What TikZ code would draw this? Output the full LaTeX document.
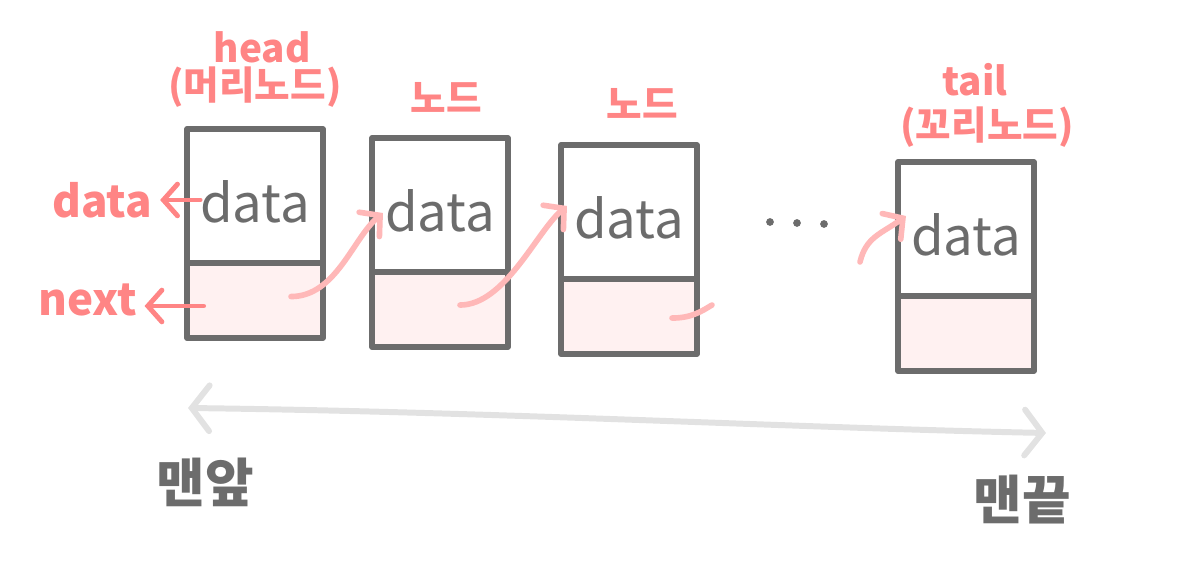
\documentclass[tikz,border=0pt]{standalone}
\usepackage{fontspec}
\usepackage{tikz}
\usetikzlibrary{positioning, arrows.meta}
\newfontfamily\krfont{Noto Sans CJK KR}
\definecolor{boxgray}{RGB}{108,108,108}
\definecolor{labelpink}{RGB}{255,133,133}
\definecolor{linkpink}{RGB}{255,184,184}
\definecolor{cellpink}{RGB}{255,241,241}
\definecolor{spangray}{RGB}{226,226,226}

\begin{document}
\begin{tikzpicture}[x=0.01cm, y=-0.01cm,
  datapart/.style={draw=boxgray, line width=1.6pt, line join=round, fill=white,
    minimum width=1.36cm, minimum height=1.34cm, outer sep=0pt, inner sep=0pt,
    text height=0.52cm, text depth=0pt,
    text=boxgray, font=\krfont\fontsize{15}{18}\selectfont},
  nextpart/.style={draw=boxgray, line width=1.6pt, line join=round, fill=cellpink,
    minimum width=1.36cm, minimum height=0.75cm, outer sep=0pt, inner sep=0pt},
  pinklabel/.style={text=labelpink, font=\krfont\bfseries\fontsize{11}{13}\selectfont, inner sep=1pt},
  endlabel/.style={text=boxgray, font=\krfont\bfseries\fontsize{15}{18}\selectfont, inner sep=1pt},
  link/.style={draw=linkpink, line width=1.6pt, line cap=round,
    -{Straight Barb[length=4pt, width=9pt, line cap=round]}},
  pointer/.style={draw=labelpink, line width=1.4pt, line cap=round,
    -{Straight Barb[length=4pt, width=9pt, line cap=round]}},
  span/.style={draw=spangray, line width=1.7pt, line cap=round,
    {Straight Barb[length=5pt, width=13pt, line cap=round]}-{Straight Barb[length=5pt, width=13pt, line cap=round]}}
]
\useasboundingbox (0,0) rectangle (1193,586);

% Nodes
\foreach \n/\x/\y in {1/255/196, 2/440/205, 3/629/212, 4/966/229}{
  \node[datapart] (d\n) at (\x,\y) {data};
  \node[nextpart, below=0pt of d\n] (n\n) {};
}

% Labels
\node[pinklabel] (head) at (262,47) {head};
\node[pinklabel] (headkr) at (255,87) {(머리노드)};
\node[pinklabel] (mid2) at (446,97) {노드};
\node[pinklabel] (mid3) at (642,103) {노드};
\node[pinklabel] (tail) at (975,80) {tail};
\node[pinklabel] (tailkr) at (987,127) {(꼬리노드)};

% Fields
\node[pinklabel, font=\krfont\bfseries\fontsize{12.5}{15}\selectfont] (datalbl) at (102,200) {data};
\node[pinklabel, font=\krfont\bfseries\fontsize{12.5}{15}\selectfont] (nextlbl) at (88,300) {next};
\draw[pointer] ([xshift=0.44cm]datalbl.east) -- ([xshift=0.04cm]datalbl.east);
\draw[pointer] ([xshift=0.62cm,yshift=-0.06cm]nextlbl.east) -- ([xshift=0.03cm,yshift=-0.06cm]nextlbl.east);

% Links
\draw[link] ([xshift=-0.32cm,yshift=0.04cm]n1.east) .. controls +(45,0) and +(-30,25) .. ([xshift=0.11cm,yshift=-0.08cm]d2.west);
\draw[link] ([xshift=-0.48cm,yshift=0.045cm]n2.east) .. controls +(45,0) and +(-30,25) .. ([xshift=0.06cm,yshift=0.06cm]d3.west);
\coordinate (stubend) at (712,305);
\draw[draw=linkpink, line width=1.6pt, line cap=round] ([xshift=-0.25cm,yshift=-0.015cm]n3.east) .. controls +(20,0) and +(-10,6) .. (stubend);
\coordinate (tailin) at (860,262);
\draw[link] (tailin) .. controls +(6,-25) and +(-25,18) .. ([xshift=0.08cm,yshift=0.13cm]d4.west);

% Dots
\foreach \x/\y in {770/222, 797/223, 824/224}
\fill[boxgray] (\x,\y) circle (1.1pt);

% Span
\coordinate (front) at (188,408);
\coordinate (back) at (1046,433);
\draw[span] (front) .. controls (500,412) and (800,428) .. (back);
\node[endlabel] (frontlbl) at (205,482) {맨앞};
\node[endlabel] (backlbl) at (1022,500) {맨끝};

\end{tikzpicture}
\end{document}
